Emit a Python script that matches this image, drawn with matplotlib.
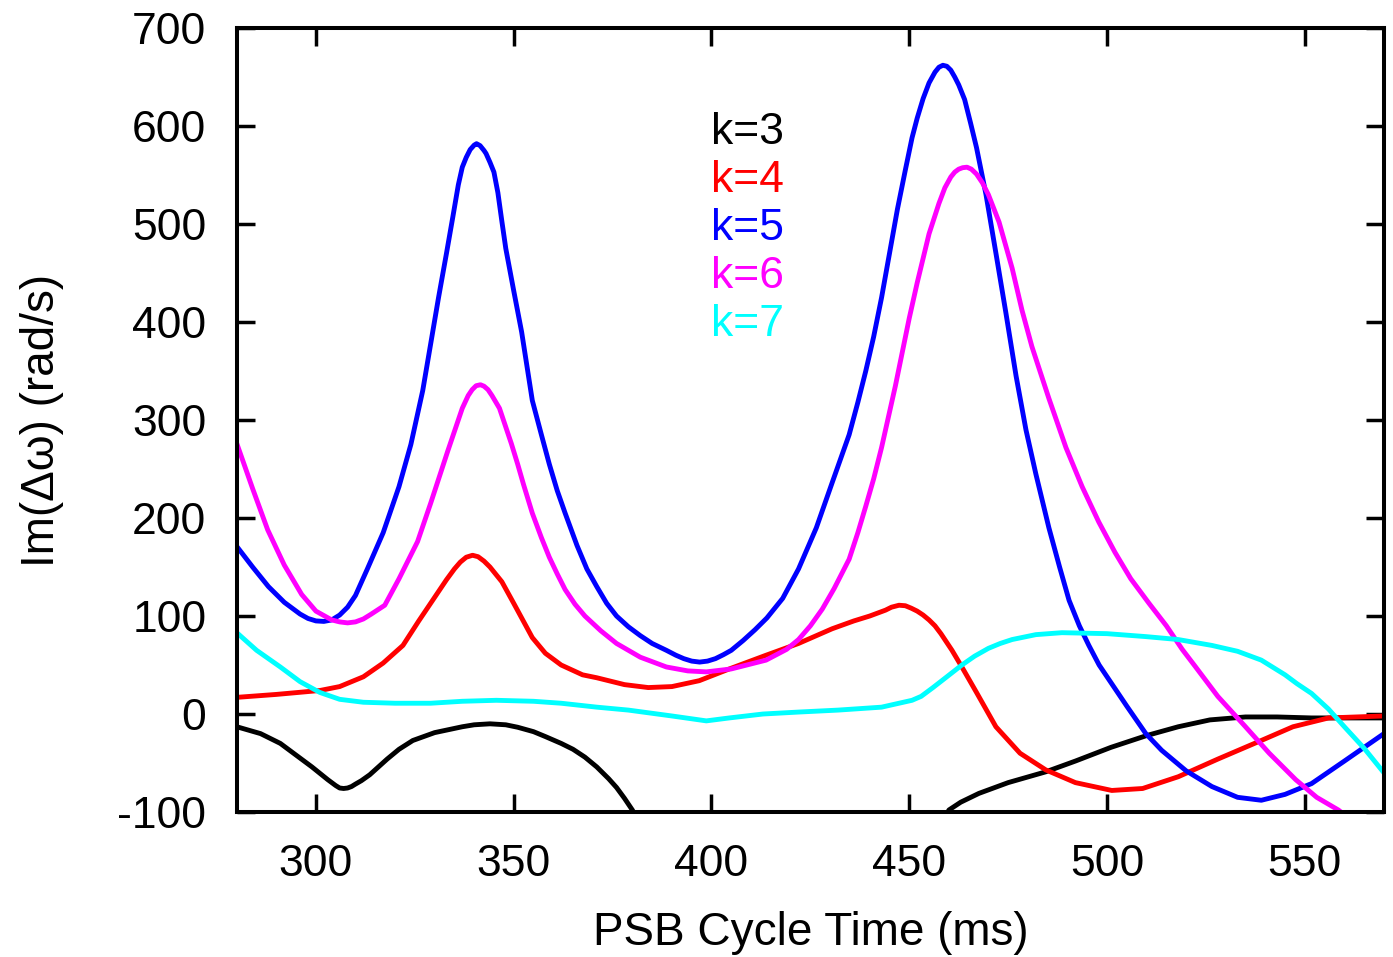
import numpy as np
import matplotlib
matplotlib.use("Agg")
import matplotlib.pyplot as plt

# ---- data ----
k3_x = [280, 286, 291, 295, 299, 303, 305, 306, 307, 308, 309, 310, 311.5, 313.6, 318, 321, 324.5, 330, 337, 340,
        344, 348, 351, 355, 358, 362, 365, 368, 371, 374, 376, 378, 380, 381.5,
        np.nan,
        459, 460, 463, 467.6, 475, 484.5, 492, 501, 510, 518, 526, 535, 543, 551.7, 560, 570]
k3_y = [-13, -20, -30, -42, -54, -67, -73, -75.5, -76, -75.5, -74, -71.5, -68, -62, -46, -36, -27, -19, -13, -11,
        -10, -11, -13.5, -18, -23, -30, -36, -44, -54, -66, -75, -86, -98, -110,
        np.nan,
        -108, -98, -90, -81, -70, -59, -48, -34, -22, -13, -6, -3, -3, -4, -4, -4]

k4_x = [280, 290, 301, 306, 312, 317, 322, 326, 330.5, 333, 335, 336.5, 338, 339.6, 341, 342.5, 344, 347, 350,
        354.7, 358, 362, 367.4, 371, 378, 384, 390, 396.9, 404.5, 413.8, 422, 430.5, 436, 440, 442, 444, 445.5,
        447.4, 449, 450.5, 452, 453.5, 455, 456.5, 458, 460.8, 463.3, 467, 471.9, 478, 484.5, 492, 501.2, 509,
        518, 528, 539, 547, 556, 570]
k4_y = [17, 20, 24, 28, 38, 52, 70, 95, 122, 137, 148, 155, 160, 162, 160.5, 156, 150, 135, 113,
        78, 62, 50, 40, 37, 30, 27, 28, 34, 46, 60, 72, 87, 95, 100, 103, 106, 109,
        111, 110.5, 108, 105, 101, 96, 90, 82, 65, 48, 22, -13, -40, -57, -70, -78, -76,
        -64, -46, -27, -13, -4, -2]

k5_x = [280, 284, 288, 292, 296, 298, 300, 302, 304, 306, 308, 310, 311, 313, 317, 321, 324, 327, 331, 333,
        334.6, 336, 337, 338, 339, 340, 340.6, 341.5, 342.5, 343, 344, 345, 346, 347, 348, 350, 352, 354.7,
        357, 359, 361, 363, 366, 368.5, 371, 373.5, 376, 379, 382, 385, 388.6, 391, 393, 395, 397, 399, 401,
        403, 405, 408, 411, 414, 418, 422, 426.5, 430.5, 434.8, 437, 439, 441, 443, 445, 447, 449, 450.7,
        452, 453.5, 455, 456.5, 457.5, 458.5, 459.5, 460.5, 461.5, 462.5, 464, 465.5, 467, 469.4, 472, 474.4,
        477, 479.5, 482, 485.3, 488, 490.4, 493, 495.4, 498, 501, 505, 509.8, 513.8, 520, 526.5, 533, 539,
        545, 551.7, 560, 570]
k5_y = [171, 150, 130, 114, 102, 97.5, 95, 94.5, 96, 101, 109, 121, 130, 148, 185, 232, 275, 330, 425, 470,
        507, 540, 558, 568, 576, 580.5, 582, 580, 575, 572, 563, 553, 532, 503, 475, 432, 390, 320,
        285, 255, 228, 205, 172, 148, 130, 113, 100, 89, 80, 72, 65, 60, 56.5, 54, 53, 54, 56.5,
        60.5, 65, 75, 86, 98, 118, 148, 190, 236, 285, 318, 350, 385, 425, 470, 515, 555, 588,
        608, 628, 644, 655, 660, 662, 661, 657, 650, 642, 627, 603, 578, 530, 468, 410,
        345, 290, 245, 190, 150, 116, 90, 70, 50, 32, 8, -20, -37, -58, -74, -85, -88,
        -82, -71, -48, -20]

k6_x = [280, 284, 287.8, 292, 296.4, 300, 304, 306, 308, 310, 312, 314, 317.4, 321, 325.7, 329, 333.3, 337,
        338.5, 339.5, 340.5, 341.6, 342.5, 343.5, 344.5, 346.4, 349.4, 351, 352.5, 354.7, 357, 359, 361, 363,
        365.5, 368, 372, 376, 382, 388.6, 394, 398.7, 405, 413.8, 419, 422, 425, 428, 431, 434.8, 437, 439,
        441, 443, 446.5, 450, 452, 455, 457.5, 459, 460.5, 461.5, 462.5, 463.5, 464.6, 465.7, 467, 468.5,
        470, 472.7, 476, 478.5, 481, 485.3, 489.6, 493.7, 497.9, 502, 506, 510.6, 515, 519, 522.4, 528, 535,
        541, 547.7, 553, 558.5, 561]
k6_y = [276, 230, 188, 152, 122, 105, 96, 94, 93, 94, 97, 102, 111, 138, 176, 215, 268, 312,
        325, 331, 335, 336, 334.5, 331, 325, 312, 276, 255, 234, 205, 180, 160, 143, 127,
        112, 100, 85, 72, 58, 48, 44, 43, 46, 55, 66, 76, 90, 107, 128, 158, 185, 212,
        240, 272, 335, 404, 440, 490, 521, 537, 548, 553, 556, 557.5, 558, 556, 551, 542,
        530, 502, 455, 412, 375, 322, 272, 232, 196, 165, 138, 113, 90, 66, 48, 18, -13,
        -40, -67, -85, -98, -106]

k7_x = [280, 285, 291, 296, 301, 306, 312, 320, 329, 337, 345.6, 355, 362, 371, 379, 390, 398.7, 404.5, 413, 422,
        432, 443, 450.7, 453, 456, 459.5, 463.3, 466.5, 470, 473, 476, 482, 488.6, 500, 509.8, 518, 526.5, 533,
        539, 545, 548, 551.7, 556, 560, 565, 570]
k7_y = [83, 65, 48, 33, 22, 15, 12, 11, 11, 13, 14, 13, 11, 7, 4, -2, -7, -4, 0, 2,
        4, 7, 14, 18, 27, 38, 50, 59, 67, 72, 76, 81, 83, 82, 79, 76, 70, 64,
        55, 40, 31, 21, 5, -13, -35, -60]

series = [
    ("k=3", k3_x, k3_y, "#000000"),
    ("k=4", k4_x, k4_y, "#ff0000"),
    ("k=5", k5_x, k5_y, "#0000ff"),
    ("k=6", k6_x, k6_y, "#ff00ff"),
    ("k=7", k7_x, k7_y, "#00ffff"),
]

x_ticks = [300, 350, 400, 450, 500, 550]
y_ticks = [-100, 0, 100, 200, 300, 400, 500, 600, 700]

plt.rcParams['font.family'] = ['Liberation Sans', 'DejaVu Sans']
plt.rcParams['axes.unicode_minus'] = False

fig = plt.figure(figsize=(13.93, 9.57), dpi=100)
ax = fig.add_axes([0.170, 0.1515, 0.8235, 0.8192])

for label, xs, ys, c in series:
    ax.plot(xs, ys, color=c, lw=3.5, label=label, solid_joinstyle='round', solid_capstyle='round')

ax.set_xlim(280, 570)
ax.set_ylim(-100, 700)
ax.set_xticks(x_ticks)
ax.set_yticks(y_ticks)

for s in ax.spines.values():
    s.set_linewidth(2.9)
    s.set_color('black')

ax.tick_params(axis='both', which='both', direction='in', length=13, width=2.5,
               top=True, right=True, labelsize=32)
ax.tick_params(axis='x', pad=23)
ax.tick_params(axis='y', pad=22)

ax.set_xlabel("PSB Cycle Time (ms)", fontsize=33, labelpad=19)
ax.set_ylabel("Im(Δω) (rad/s)", fontsize=33, labelpad=38)

leg = ax.legend(loc='upper left', bbox_to_anchor=(0.394, 0.9215), frameon=False,
                handlelength=0, handletextpad=0, labelcolor='linecolor',
                fontsize=32, labelspacing=0.16, borderpad=0)
for h in leg.legend_handles:
    h.set_visible(False)

fig.savefig("out.png", dpi=100)
